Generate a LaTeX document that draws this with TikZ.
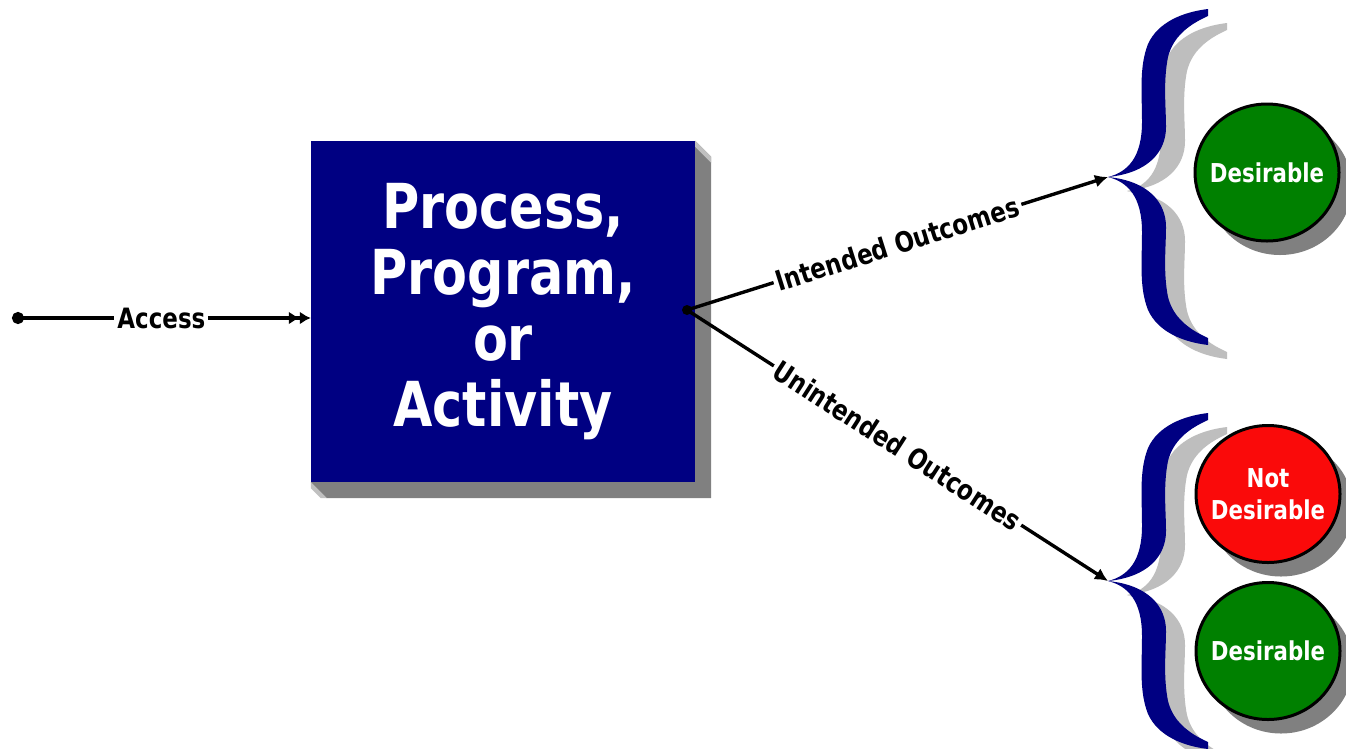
\documentclass[tikz,border=0pt]{standalone}
\usepackage{fontspec}
\newfontfamily\tah[FakeStretch=0.82]{DejaVu Sans}
\usetikzlibrary{arrows.meta,shapes.geometric,shadows,backgrounds}
\definecolor{navy}{RGB}{0,0,130}
\definecolor{leaf}{RGB}{0,128,0}
\definecolor{alarm}{RGB}{250,10,10}
\definecolor{shadowgray}{RGB}{128,128,128}
\definecolor{bevel}{RGB}{192,192,192}
\definecolor{braceshade}{RGB}{190,190,190}
\begin{document}
\begin{tikzpicture}[x=1pt,y=-1pt,
  link/.style={line width=3.4pt, draw=black},
  tag/.style={fill=white, inner xsep=3pt, inner ysep=0pt, midway, sloped,
    font=\tah\bfseries\fontsize{28}{30}\selectfont},
  ball/.style={ellipse, draw=black, line width=3pt, minimum width=144pt,
    minimum height=137pt, text=white, align=center, inner xsep=-12pt, inner ysep=0pt,
    font=\tah\bfseries\fontsize{26}{32}\selectfont,
    drop shadow={shadow xshift=13pt, shadow yshift=-14pt, opacity=1, fill=shadowgray}},
  brace/.pic={
    \foreach \s in {1,-1}{
      \path[pic actions, yscale=\s] (0,0)
        .. controls (20,-5) and (34,-20) .. (34,-55)
        .. controls (34,-85) and (31,-110) .. (40,-133)
        .. controls (50,-155) and (75,-165) .. (100,-168) -- (100,-161)
        .. controls (80,-152) and (65,-140) .. (60,-120)
        .. controls (55,-95) and (58,-70) .. (58,-50)
        .. controls (58,-25) and (40,-4) .. (0,0) -- cycle;
    }
  }
]
\useasboundingbox (0,0) rectangle (1346,748);

% central block
\node[fill=navy, minimum width=384pt, minimum height=341pt, text=white,
  align=center, inner sep=0pt, font=\tah\bfseries\fontsize{62}{66}\selectfont]
  (box) at (503,311.5) {Process,\\Program,\\or\\Activity};

\begin{scope}[on background layer]
  \fill[white] (0,0) rectangle (1346,748);
  % extruded shadow of the block
  \fill[shadowgray] (box.north east) -- ++(16,16) -- ([shift={(16,16)}]box.south east)
    -- ([shift={(16,16)}]box.south west) -- (box.south west) -- cycle;
  \fill[bevel] (box.north east) -- ++(16,16) -- ++(0,6) -- ++(-16,-16) -- cycle;
  \fill[bevel] (box.south west) -- ++(16,16) -- ++(-6,0) -- ++(-10,-10) -- cycle;
\end{scope}

% input connector
\coordinate (src) at (12,318);
\draw[link, {Circle[length=12pt]}-{Latex[length=11pt,width=13pt]Latex[length=11pt,width=13pt]}]
  (src) -- (src -| box.west) node[tag] {Access};

% outcome branches
\node[circle, fill=black, inner sep=0pt, minimum size=10pt] (split) at (687,310) {};
\coordinate (tipI) at (1108,177);
\coordinate (tipU) at (1108,581);
\draw[link, -{Latex[length=13pt,width=13pt]}] (split.center) -- (tipI)
  node[tag] {Intended Outcomes};
\draw[link, -{Latex[length=13pt,width=13pt]}] (split.center) -- (tipU)
  node[tag] {Unintended Outcomes};

% braces with their shadows
\pic[fill=braceshade] at ([shift={(19,14)}]tipI) {brace};
\pic[fill=navy] at (tipI) {brace};
\pic[fill=braceshade] at ([shift={(19,14)}]tipU) {brace};
\pic[fill=navy] at (tipU) {brace};

% outcome circles
\node[ball, fill=leaf] (good1) at (1267,172.5) {Desirable};
\node[ball, fill=alarm] (bad) at (1268,494) {Not\\Desirable};
\node[ball, fill=leaf] (good2) at (1268,651) {Desirable};
\end{tikzpicture}
\end{document}
